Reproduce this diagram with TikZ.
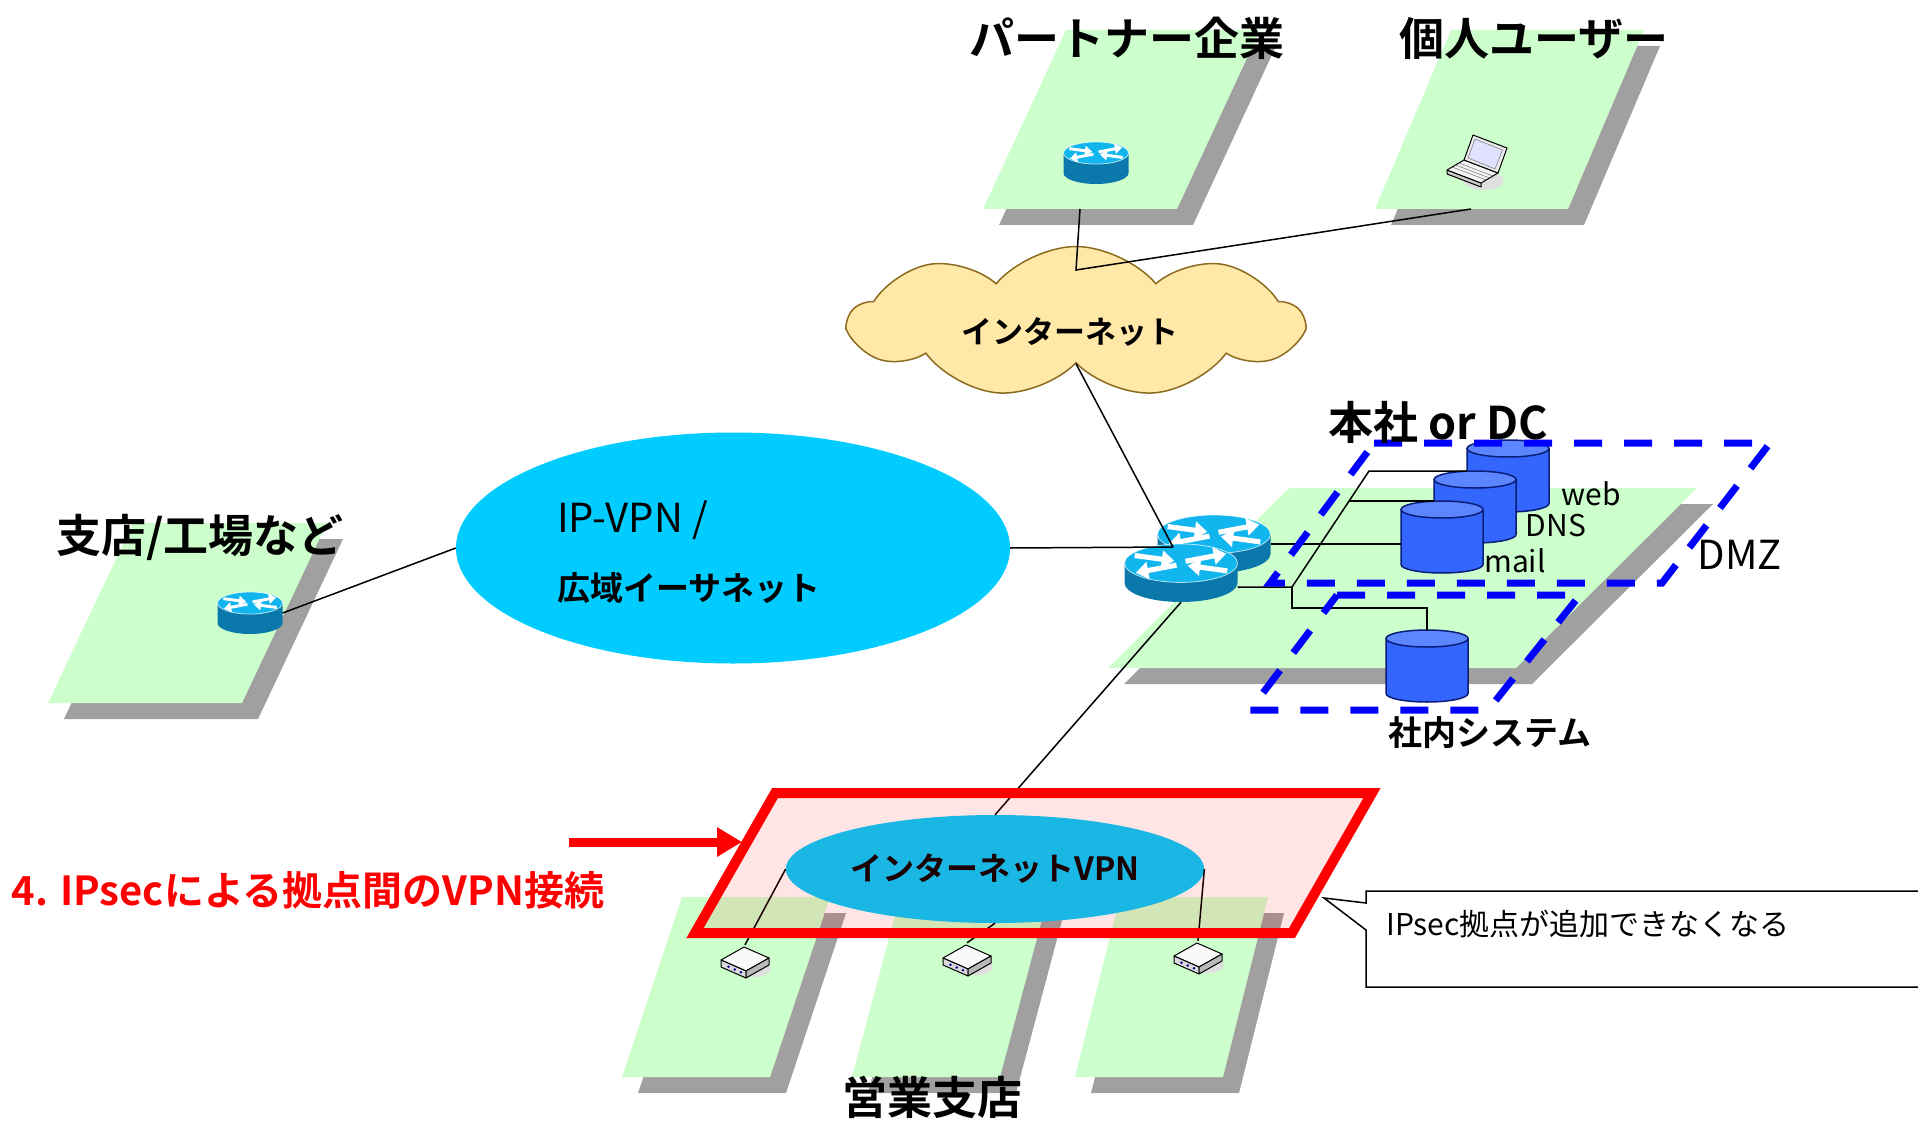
\documentclass[tikz,border=0pt]{standalone}
\usepackage{fontspec}
\setmainfont{Noto Sans CJK JP}[BoldFont={Noto Sans CJK JP Bold}]
\usetikzlibrary{shapes.geometric,shapes.symbols,arrows.meta,calc}

\definecolor{lanfill}{HTML}{CCFFCC}
\definecolor{langray}{HTML}{A0A0A0}
\definecolor{inetfill}{HTML}{FFE8A8}
\definecolor{inetedge}{HTML}{8C6A1E}
\definecolor{wanblue}{HTML}{00CCFF}
\definecolor{rttop}{HTML}{12B6EE}
\definecolor{rtside}{HTML}{0A78AA}
\definecolor{dbblue}{HTML}{3366FF}
\definecolor{dbtop}{HTML}{5C86FF}
\definecolor{dbedge}{HTML}{0A1E78}
\definecolor{dmzblue}{HTML}{0000FF}

\tikzset{
  conn/.style={draw=black, line width=1.5pt},
  title/.style={inner sep=0pt, font=\fontsize{45}{50}\selectfont\bfseries},
  sublabel/.style={inner sep=0pt, font=\fontsize{34}{38}\selectfont\bfseries},
  srvlabel/.style={inner sep=0pt, font=\fontsize{30}{34}\selectfont},
  dbline/.style={draw=dbedge, line width=1.5pt},
  dmz/.style={draw=dmzblue, line width=7pt, dash pattern=on 28pt off 22pt},
  rtarrow/.style={draw=white, -{Triangle[length=#1*0.11pt, width=#1*0.15pt]}},
  vpnframe/.style={draw=red, line width=10pt, fill=red, fill opacity=0.1},
  redarrow/.style={draw=red, line width=9pt, -{Triangle[length=25pt, width=28pt]}},
  callout/.style={draw=black, line width=1.5pt, fill=white},
  modem/.pic={
    \fill[gray!25] (10,9) ellipse[x radius=16, y radius=8];
    \filldraw[fill=gray!5, line width=1pt, line join=round] (-24,0) -- (-1,-13) -- (24,-2) -- (1,11) -- cycle;
    \filldraw[fill=gray!30, line width=1pt, line join=round] (-24,0) -- (1,11) -- (1,18) -- (-24,7) -- cycle;
    \filldraw[fill=gray!55, line width=1pt, line join=round] (1,11) -- (24,-2) -- (24,5) -- (1,18) -- cycle;
    \foreach \p in {0.3,0.55,0.8}
      \fill[blue!60!black] ($(-24,3.5)!\p!(1,14.5)$) circle[radius=1.4];
  },
  laptop/.pic={
    \fill[gray!25] (8,20) ellipse[x radius=20, y radius=9];
    \filldraw[fill=gray!40, line width=1pt, line join=round] (-29,9) -- (5,22) -- (5,26) -- (-29,13) -- cycle;
    \filldraw[fill=gray!8, line width=1pt, line join=round] (-12,-1) -- (22,12) -- (5,22) -- (-29,9) -- cycle;
    \foreach \t in {0.3,0.5,0.7}
      \draw[gray, line width=0.6pt] ($(-12,-1)!\t!(-29,9)$) -- ($(22,12)!\t!(5,22)$);
    \filldraw[fill=gray!15, line width=1pt, line join=round] (-12,-1) -- (22,12) -- (31,-13) -- (-3,-26) -- cycle;
    \filldraw[fill=blue!12, draw=gray, line width=0.6pt] (-8,-3) -- (19,8) -- (26.5,-11) -- (-1,-22) -- cycle;
  }
}

% router icon: name, x, y, width, height
\newcommand{\router}[5]{%
  \node[inner sep=0pt, minimum width=#4pt, minimum height=#5pt] (#1) at (#2,#3) {};
  \pgfmathsetmacro\rtrx{#4/2}
  \pgfmathsetmacro\rtry{0.17*#4}
  \pgfmathsetmacro\rtyc{-#5/2+\rtry}
  \pgfmathsetmacro\rtyb{#5/2-\rtry}
  \pgfmathsetmacro\rtlw{0.045*#4}
  \begin{scope}[shift={(#2,#3)}]
    \fill[rtside] (-\rtrx,\rtyc) -- (-\rtrx,\rtyb)
      arc[start angle=180, end angle=0, x radius=\rtrx, y radius=\rtry] -- (\rtrx,\rtyc) -- cycle;
    \fill[rttop] (0,\rtyc) ellipse[x radius=\rtrx, y radius=\rtry];
    \draw[white, line width=0.8pt, opacity=0.7] (0,\rtyc) ellipse[x radius=\rtrx, y radius=\rtry];
    \begin{scope}[shift={(0,\rtyc)}, xscale=\rtrx, yscale=\rtry]
      \draw[rtarrow=#4, line width=\rtlw pt] (-0.82,-0.4) -- (-0.12,-0.12);
      \draw[rtarrow=#4, line width=\rtlw pt] (0.82,0.4) -- (0.12,0.12);
      \draw[rtarrow=#4, line width=\rtlw pt] (0.08,-0.1) -- (0.8,-0.5);
      \draw[rtarrow=#4, line width=\rtlw pt] (-0.08,0.1) -- (-0.8,0.5);
    \end{scope}
  \end{scope}}

% database cylinder: name, x, y
\newcommand{\server}[3]{%
  \node[inner sep=0pt, minimum width=82pt, minimum height=72pt] (#1) at (#2,#3) {};
  \begin{scope}[shift={(#2,#3)}]
    \filldraw[dbline, fill=dbblue] (-41,-27.5) -- (-41,27.5)
      arc[start angle=180, end angle=0, x radius=41, y radius=8.5] -- (41,-27.5) -- cycle;
    \filldraw[dbline, fill=dbtop] (0,-27.5) ellipse[x radius=41, y radius=8.5];
  \end{scope}}

\begin{document}
\begin{tikzpicture}[x=1pt, y=-1pt]
\useasboundingbox (0,0) rectangle (1918,1123);

% LAN planes with their shadows
\foreach \bx/\by/\w/\h/\s in {48/703/194/180/85, 983/209/194/179/83, 1375/209/193/179/76,
    1108/668/408/180/181, 622/1077/148/180/60, 852/1077/148/180/48, 1075/1077/148/180/45}{
  \fill[langray] (\bx+16,\by+16) -- ++(\w,0) -- ++(\s,-\h) -- ++(-\w,0) -- cycle;
  \fill[lanfill] (\bx,\by) -- ++(\w,0) -- ++(\s,-\h) -- ++(-\w,0) -- cycle;
}

% internet
\node[cloud, cloud puffs=9, cloud puff arc=100, aspect=2.8, draw=inetedge, fill=inetfill,
  line width=1.5pt, minimum width=452pt, minimum height=151pt, inner sep=0pt] (inet) at (1076,322) {};
\node[inner sep=0pt, font=\fontsize{31}{34}\selectfont\bfseries] (inetL) at (1070,332) {インターネット};

% IP-VPN / wide area ethernet
\node[ellipse, fill=wanblue, minimum width=554pt, minimum height=231pt] (ipvpn) at (733,548) {};
\node[anchor=west, inner sep=0pt, font=\fontsize{40}{44}\selectfont] (ipvpnA) at (557,520) {IP-VPN /};
\node[anchor=west, inner sep=0pt, font=\fontsize{33}{36}\selectfont\bfseries] (ipvpnB) at (557,588) {広域イーサネット};

% routers
\router{rtLeft}{250}{613}{65}{42}
\router{rtPartner}{1096}{163}{65}{42}
\router{rtBack}{1214}{544}{113}{58}
\router{rtFront}{1181}{573}{113}{58}
\node[minimum width=60pt, minimum height=55pt] (pc) at (1476,161) {};
\pic at (pc) {laptop};

\coordinate (hq) at (1173,547);
\coordinate (ptDrop) at (1080,209);
\coordinate (pcDrop) at (1471,209);
\coordinate (inetHub) at (1076,270);
\draw[conn] (rtLeft.east) -- (ipvpn.west);
\draw[conn] (ipvpn.east) -- (hq);
\draw[conn] (inet.south) -- (hq);
\draw[conn] (ptDrop) -- (inetHub) -- (pcDrop);

% servers
\server{web}{1508}{476}
\server{dns}{1475}{507}
\server{mail}{1442}{537}
\server{intdb}{1427}{666}
\node[srvlabel] (webL) at (1591,494) {web};
\node[srvlabel] (dnsL) at (1556,526) {DNS};
\node[srvlabel] (mailL) at (1515,561) {mail};

\coordinate (jn) at (1292,587);
\coordinate (jWeb) at (1369,471);
\coordinate (jDns) at ($(jn)!0.74!(jWeb)$);
\coordinate (jIn) at (1292,608);
\draw[conn] (jn -| rtFront.east) -- (jn) -- (jWeb) -- (jWeb -| web.west);
\draw[conn] (jDns) -- (jDns -| dns.west);
\draw[conn] (jn) -- (jIn) -- (jIn -| intdb.north) -- (intdb.north);
\draw[conn] (rtBack.east) -- (rtBack.east -| mail.west);

% DMZ and internal zone
\draw[dmz] (1374,443) -- (1770,443) -- (1662,583) -- (1270,583) -- cycle;
\draw[dmz] (1337,595) -- (1580,595) -- (1488,710) -- (1250,710) -- cycle;
\node[inner sep=0pt, font=\fontsize{40}{44}\selectfont] (dmzL) at (1740,555) {DMZ};

% sales branches
\node[ellipse, fill=wanblue, minimum width=390pt, minimum height=108pt,
  font=\fontsize{32}{36}\selectfont\bfseries] (vpn) at (995,869) {インターネットVPN};
\foreach \n/\mx/\my in {1/745/960, 2/967/958, 3/1198/956}
  \node[minimum width=48pt, minimum height=30pt] (mdm\n) at (\mx,\my) {};
\draw[conn] (mdm1.north) -- (vpn.west);
\draw[conn] (mdm2.north) -- (vpn.south);
\draw[conn] (mdm3.north) -- (vpn.east);
\draw[conn] (rtFront.south) -- (vpn.north);
\foreach \n in {1,2,3}
  \pic at (mdm\n) {modem};

\draw[vpnframe] (775,793) -- (1372,793) -- (1292,933) -- (695,933) -- cycle;

% note on the IPsec case
\coordinate (arrowTail) at (569,842);
\coordinate (frameLeft) at (742,842);
\draw[redarrow] (arrowTail) -- (frameLeft);
\node[text=red, inner sep=0pt, font=\fontsize{40}{44}\selectfont\bfseries] (ipsecL) at (308,890) {4. IPsecによる拠点間のVPN接続};
\draw[callout] (1930,891) -- (1366,891) -- (1366,903) -- (1324,898) -- (1366,930) -- (1366,987) -- (1930,987);
\node[anchor=west, inner sep=0pt, font=\fontsize{30}{34}\selectfont] (calloutT) at (1386,924) {IPsec拠点が追加できなくなる};

% titles
\node[title] (tPartner) at (1127,38) {パートナー企業};
\node[title] (tUser) at (1534,38) {個人ユーザー};
\node[title] (tBranch) at (200,537) {支店/工場など};
\node[title] (tHq) at (1438,422) {本社 or DC};
\node[sublabel] (tInternal) at (1490,733) {社内システム};
\node[title] (tSales) at (932,1097) {営業支店};
\end{tikzpicture}
\end{document}
